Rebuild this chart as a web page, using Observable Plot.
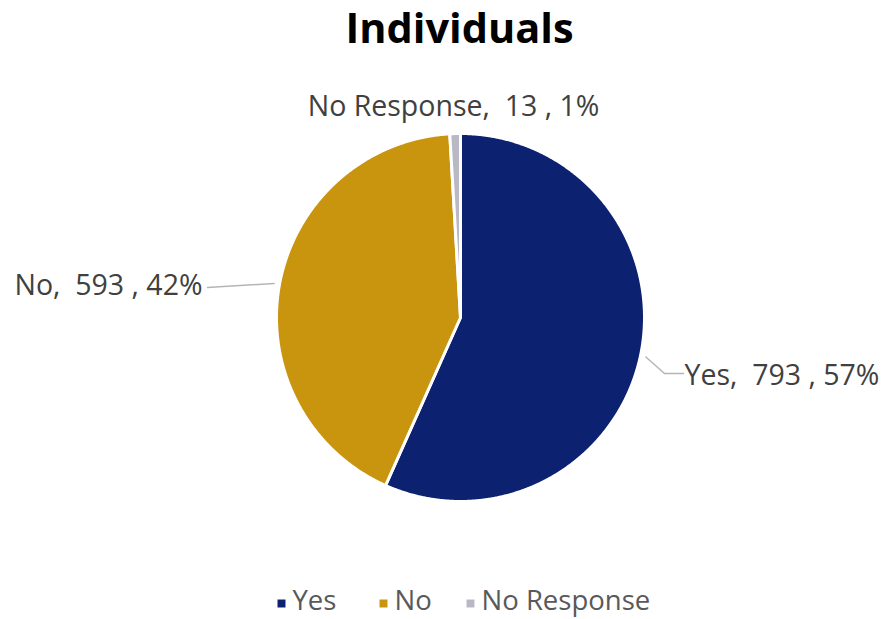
<!DOCTYPE html>
<html><head><meta charset="utf-8">
<script src="https://cdn.jsdelivr.net/npm/d3@7"></script>
<script src="https://cdn.jsdelivr.net/npm/@observablehq/plot@0.6"></script>
<style>
body{margin:0;background:#fff}
svg text{white-space:pre}
</style>
</head><body><div id="chart"></div>
<script>
// ---- data ----
const title = "Individuals";
const categories = ["Yes", "No", "No Response"];
const counts = [793, 593, 13];
const percents = [57, 42, 1];
const colors = ["#0c2270", "#c9950f", "#b9b9c6"];

// ---- layout (pixels) ----
const W = 888, H = 619, cx = 460, cy = 317, R = 184;
const labelLayout = {
  "Yes": {x: 684, y: 375, anchor: "start", lead: [[664, 373], [683, 373]]},
  "No": {x: 202, y: 285, anchor: "end", lead: [[207, 287]]},
  "No Response": {x: 453, y: 106, anchor: "middle", lead: null}
};
const legendX = [281, 383, 470];
const legendY = 601;

const data = categories.map((c, i) => ({cat: c, value: counts[i], pct: percents[i]}));
const arcs = d3.pie().sort(null).value(d => d.value)(data);

const slicePts = [];
arcs.forEach(a => {
  const c = a.data.cat;
  slicePts.push({cat: c, x: cx, y: cy});
  const n = Math.max(4, Math.ceil((a.endAngle - a.startAngle) / 0.005));
  for (let k = 0; k <= n; k++) {
    const t = a.startAngle + (a.endAngle - a.startAngle) * k / n;
    slicePts.push({cat: c, x: cx + R * Math.sin(t), y: cy - R * Math.cos(t)});
  }
  slicePts.push({cat: c, x: cx, y: cy});
});

const leaders = [];
arcs.forEach(a => {
  const L = labelLayout[a.data.cat];
  if (!L.lead) return;
  const m = (a.startAngle + a.endAngle) / 2;
  leaders.push({cat: a.data.cat, x: cx + R * 1.03 * Math.sin(m), y: cy - R * 1.03 * Math.cos(m)});
  L.lead.forEach(([x, y]) => leaders.push({cat: a.data.cat, x, y}));
});

const labels = data.map(d => ({
  ...d,
  text: `${d.cat},  ${d.value} , ${d.pct}%`,
  x: labelLayout[d.cat].x, y: labelLayout[d.cat].y, anchor: labelLayout[d.cat].anchor
}));

const legend = data.map((d, i) => ({...d, x: legendX[i], y: legendY}));

const labelOpts = {x: "x", y: "y", text: "text", fontSize: 28.5, fill: "#404040"};

const chart = Plot.plot({
  width: W, height: H,
  margin: 0,
  x: {domain: [0, W], range: [0, W], axis: null},
  y: {domain: [0, H], range: [0, H], axis: null},
  color: {domain: categories, range: colors},
  style: {fontFamily: "'Open Sans', sans-serif", background: "#fff"},
  marks: [
    Plot.line(slicePts, {x: "x", y: "y", z: "cat", fill: "cat", stroke: "#fff", strokeWidth: 3, strokeLinejoin: "round"}),
    Plot.line(leaders, {x: "x", y: "y", z: "cat", stroke: "#b5b5b5", strokeWidth: 1.5}),
    Plot.text(labels.filter(d => d.anchor === "start"), {...labelOpts, textAnchor: "start"}),
    Plot.text(labels.filter(d => d.anchor === "end"), {...labelOpts, textAnchor: "end"}),
    Plot.text(labels.filter(d => d.anchor === "middle"), {...labelOpts, textAnchor: "middle"}),
    Plot.text([title], {x: () => 459, y: () => 29, text: d => d, fontSize: 41.5, fontWeight: "bold", fill: "#000"}),
    Plot.dot(legend, {x: "x", y: d => d.y + 2, symbol: "square", r: 4.5, fill: "cat", stroke: null}),
    Plot.text(legend, {x: d => d.x + 11, y: "y", text: "cat", textAnchor: "start", fontSize: 27.5, fill: "#595959"})
  ]
});
document.getElementById("chart").append(chart);
</script>
</body></html>
